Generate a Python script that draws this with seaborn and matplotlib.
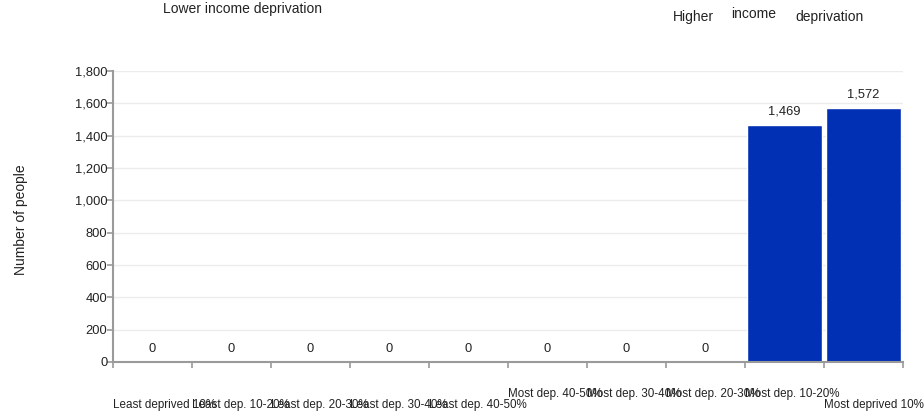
import seaborn as sns
import matplotlib
matplotlib.use("Agg")
import matplotlib.pyplot as plt
import pandas as pd
from matplotlib.ticker import FuncFormatter, MultipleLocator

categories = [
    "Least deprived 10%", "Least dep. 10-20%", "Least dep. 20-30%",
    "Least dep. 30-40%", "Least dep. 40-50%", "Most dep. 40-50%",
    "Most dep. 30-40%", "Most dep. 20-30%", "Most dep. 10-20%",
    "Most deprived 10%",
]
people = [0, 0, 0, 0, 0, 0, 0, 0, 1469, 1572]
# which row each x label sits in (0 = lower, 1 = upper), as in the original
label_row = [0, 0, 0, 0, 0, 1, 1, 1, 1, 0]
y_ticks = [0, 200, 400, 600, 800, 1000, 1200, 1400, 1600, 1800]

sns.set_theme(style="white")
plt.rcParams["font.family"] = ["Liberation Sans", "DejaVu Sans"]

df = pd.DataFrame({"decile": categories, "people": people})

fig = plt.figure(figsize=(9.24, 4.16), dpi=100)
ax = fig.add_axes([113 / 924, 54 / 416, 790 / 924, 291 / 416])

sns.barplot(data=df, x="decile", y="people", color="#0230b4", saturation=1,
            width=0.94, ax=ax)

ax.set_xlim(-0.5, len(categories) - 0.5)
ax.set_ylim(0, 1800)
ax.set_yticks(y_ticks)
ax.yaxis.set_major_formatter(FuncFormatter(lambda v, p: f"{v:,.0f}"))
ax.grid(axis="y", color="#ececec", linewidth=1)
ax.set_axisbelow(True)

for c in ax.containers:
    ax.bar_label(c, labels=[f"{v:,.0f}" for v in people], padding=5,
                 fontsize=9.3, color="#222222")

sns.despine(ax=ax)
for s in ["left", "bottom"]:
    ax.spines[s].set_color("#9a9a9a")
    ax.spines[s].set_linewidth(1.5)

# ticks on category borders, labels left-aligned at each border
ax.set_xticks([])
ax.xaxis.set_minor_locator(MultipleLocator(1, offset=0.5))
ax.tick_params(axis="x", which="minor", bottom=True, length=4, width=1.2,
               color="#9a9a9a")
ax.tick_params(axis="y", left=True, length=4, width=1.2, color="#9a9a9a",
               pad=0, labelsize=9.3, labelcolor="#222222")
ax.set_xlabel("")

tr = ax.get_xaxis_transform()
for i, (name, row) in enumerate(zip(categories, label_row)):
    y = -0.110 if row == 1 else -0.148
    ax.text(i - 0.5, y, name, transform=tr, ha="left", va="center",
            fontsize=8.4, color="#222222", clip_on=False)

ax.set_ylabel("Number of people", fontsize=10, color="#222222")
ax.yaxis.set_label_coords(-0.108, 0.49)

fig.text(163 / 924, 1 - 9 / 416, "Lower income deprivation", ha="left",
         va="center", fontsize=10, color="#222222")
fig.text(673 / 924, 1 - 17.5 / 416, "Higher", ha="left", va="center",
         fontsize=10, color="#222222")
fig.text(731 / 924, 1 - 14.5 / 416, "income", ha="left", va="center",
         fontsize=10, color="#222222")
fig.text(795 / 924, 1 - 17.5 / 416, "deprivation", ha="left", va="center",
         fontsize=10, color="#222222")

fig.savefig("out.png", dpi=100)
